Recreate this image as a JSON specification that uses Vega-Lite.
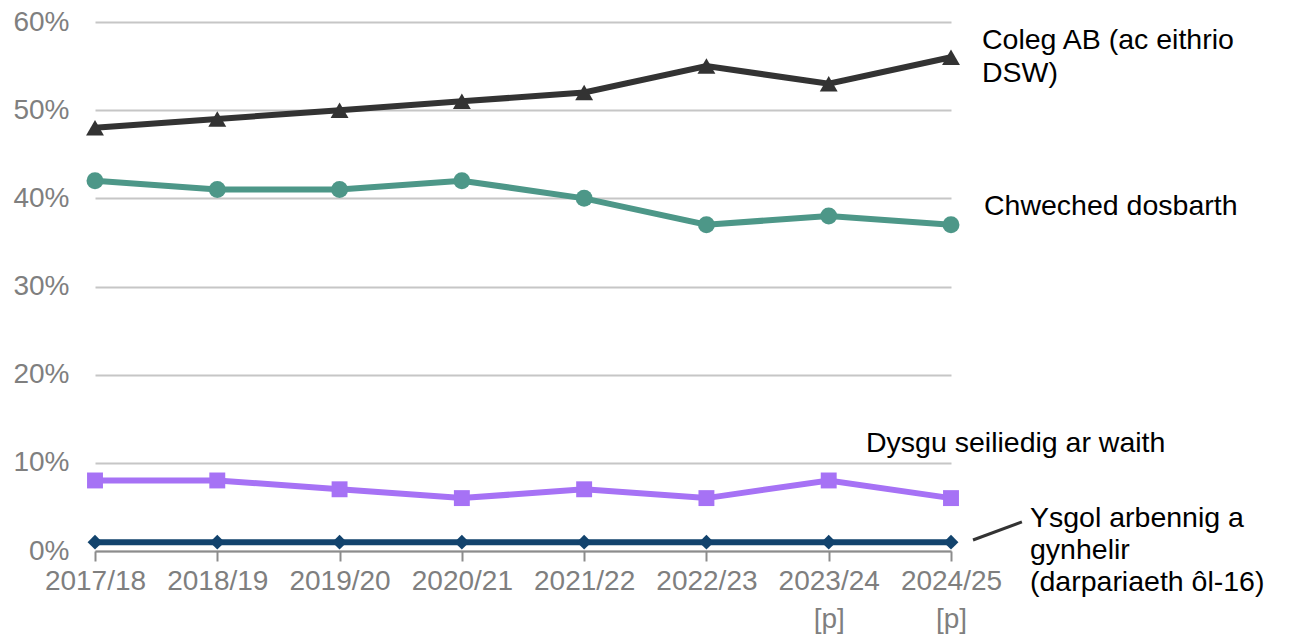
{
  "$schema": "https://vega.github.io/schema/vega-lite/v6.json",
  "width": 856,
  "height": 529,
  "autosize": {"type": "none"},
  "padding": {"left": 95, "top": 22, "right": 339, "bottom": 87},
  "background": "white",
  "config": {
    "view": {"stroke": null},
    "font": "Liberation Sans",
    "text": {"font": "Liberation Sans"}
  },
  "data": {
    "values": [
      {"i": 0, "series": "Coleg", "v": 0.48},
      {"i": 1, "series": "Coleg", "v": 0.49},
      {"i": 2, "series": "Coleg", "v": 0.50},
      {"i": 3, "series": "Coleg", "v": 0.51},
      {"i": 4, "series": "Coleg", "v": 0.52},
      {"i": 5, "series": "Coleg", "v": 0.55},
      {"i": 6, "series": "Coleg", "v": 0.53},
      {"i": 7, "series": "Coleg", "v": 0.56},
      {"i": 0, "series": "Chweched", "v": 0.42},
      {"i": 1, "series": "Chweched", "v": 0.41},
      {"i": 2, "series": "Chweched", "v": 0.41},
      {"i": 3, "series": "Chweched", "v": 0.42},
      {"i": 4, "series": "Chweched", "v": 0.40},
      {"i": 5, "series": "Chweched", "v": 0.37},
      {"i": 6, "series": "Chweched", "v": 0.38},
      {"i": 7, "series": "Chweched", "v": 0.37},
      {"i": 0, "series": "Dysgu", "v": 0.08},
      {"i": 1, "series": "Dysgu", "v": 0.08},
      {"i": 2, "series": "Dysgu", "v": 0.07},
      {"i": 3, "series": "Dysgu", "v": 0.06},
      {"i": 4, "series": "Dysgu", "v": 0.07},
      {"i": 5, "series": "Dysgu", "v": 0.06},
      {"i": 6, "series": "Dysgu", "v": 0.08},
      {"i": 7, "series": "Dysgu", "v": 0.06},
      {"i": 0, "series": "Ysgol", "v": 0.01},
      {"i": 1, "series": "Ysgol", "v": 0.01},
      {"i": 2, "series": "Ysgol", "v": 0.01},
      {"i": 3, "series": "Ysgol", "v": 0.01},
      {"i": 4, "series": "Ysgol", "v": 0.01},
      {"i": 5, "series": "Ysgol", "v": 0.01},
      {"i": 6, "series": "Ysgol", "v": 0.01},
      {"i": 7, "series": "Ysgol", "v": 0.01}
    ]
  },
  "encoding": {
    "x": {
      "field": "i",
      "type": "quantitative",
      "scale": {"domain": [0, 7], "nice": false, "zero": false},
      "axis": {
        "title": null,
        "values": [0, 1, 2, 3, 4, 5, 6, 7],
        "labelExpr": "datum.value == 6 ? ['2023/24', '[p]'] : datum.value == 7 ? ['2024/25', '[p]'] : ['2017/18','2018/19','2019/20','2020/21','2021/22','2022/23'][datum.value]",
        "grid": false,
        "domainColor": "#8c8c8c",
        "domainWidth": 2,
        "tickColor": "#8c8c8c",
        "tickWidth": 2,
        "tickSize": 10,
        "labelFont": "Liberation Sans",
        "labelFontSize": 28,
        "labelColor": "#7f7f7f",
        "labelPadding": 6,
        "labelLineHeight": 38,
        "labelFlush": false,
        "labelOverlap": false
      }
    },
    "y": {
      "field": "v",
      "type": "quantitative",
      "scale": {"domain": [0, 0.6], "nice": false},
      "axis": {
        "title": null,
        "values": [0, 0.1, 0.2, 0.3, 0.4, 0.5, 0.6],
        "format": ".0%",
        "domain": false,
        "ticks": false,
        "grid": true,
        "gridColor": "#c6c6c6",
        "gridWidth": 2,
        "labelFont": "Liberation Sans",
        "labelFontSize": 28,
        "labelColor": "#7f7f7f",
        "labelPadding": 26
      }
    }
  },
  "layer": [
    {
      "mark": {"type": "line", "strokeWidth": 6},
      "encoding": {
        "color": {
          "field": "series",
          "type": "nominal",
          "scale": {
            "domain": ["Coleg", "Chweched", "Dysgu", "Ysgol"],
            "range": ["#333333", "#4d9788", "#a672f5", "#12436d"]
          },
          "legend": null
        }
      }
    },
    {
      "mark": {"type": "point", "filled": true, "opacity": 1},
      "encoding": {
        "color": {
          "field": "series",
          "type": "nominal",
          "scale": {
            "domain": ["Coleg", "Chweched", "Dysgu", "Ysgol"],
            "range": ["#333333", "#4d9788", "#a672f5", "#12436d"]
          },
          "legend": null
        },
        "shape": {
          "field": "series",
          "type": "nominal",
          "scale": {
            "domain": ["Coleg", "Chweched", "Dysgu", "Ysgol"],
            "range": ["triangle-up", "circle", "square", "diamond"]
          },
          "legend": null
        },
        "size": {
          "field": "series",
          "type": "nominal",
          "scale": {
            "domain": ["Coleg", "Chweched", "Dysgu", "Ysgol"],
            "range": [320, 220, 230, 170]
          },
          "legend": null
        }
      }
    },
    {
      "transform": [{"filter": "datum.series == 'Coleg' && datum.i == 7"}],
      "mark": {"type": "text", "text": ["Coleg AB (ac eithrio", "DSW)"], "align": "left", "baseline": "alphabetic", "dx": 31, "dy": -8, "fontSize": 28.5, "lineHeight": 33, "color": "#000000"}
    },
    {
      "transform": [{"filter": "datum.series == 'Chweched' && datum.i == 7"}],
      "mark": {"type": "text", "text": "Chweched dosbarth", "align": "left", "baseline": "alphabetic", "dx": 33, "dy": -10, "fontSize": 28.5, "color": "#000000"}
    },
    {
      "transform": [{"filter": "datum.series == 'Dysgu' && datum.i == 7"}],
      "mark": {"type": "text", "text": "Dysgu seiliedig ar waith", "align": "left", "baseline": "alphabetic", "dx": -85, "dy": -46, "fontSize": 28.5, "color": "#000000"}
    },
    {
      "transform": [{"filter": "datum.series == 'Ysgol' && datum.i == 7"}],
      "mark": {"type": "text", "text": ["Ysgol arbennig a", "gynhelir", "(darpariaeth ôl-16)"], "align": "left", "baseline": "alphabetic", "dx": 79, "dy": -15, "fontSize": 28.5, "lineHeight": 32, "color": "#000000"}
    },
    {
      "data": {"values": [{"from": 7.18, "to": 7.58, "lo": 0.0125, "hi": 0.033}]},
      "mark": {"type": "rule", "strokeWidth": 3, "color": "#333333"},
      "encoding": {
        "x": {"field": "from", "type": "quantitative"},
        "x2": {"field": "to"},
        "y": {"field": "lo", "type": "quantitative"},
        "y2": {"field": "hi"}
      }
    }
  ]
}
